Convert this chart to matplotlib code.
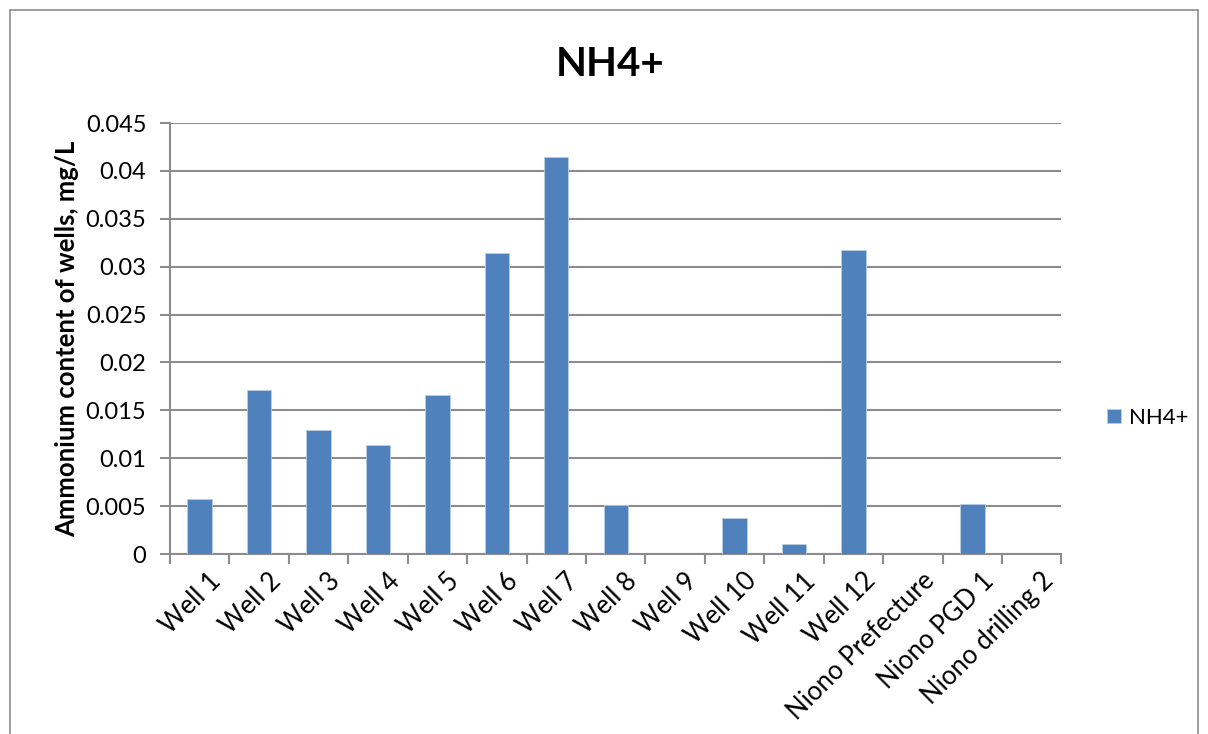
import matplotlib.pyplot as plt
from matplotlib.patches import Rectangle

plt.rcParams['font.family'] = ['Lato', 'DejaVu Sans']

categories = ['Well 1', 'Well 2', 'Well 3', 'Well 4', 'Well 5', 'Well 6',
              'Well 7', 'Well 8', 'Well 9', 'Well 10', 'Well 11', 'Well 12',
              'Niono Prefecture', 'Niono PGD 1', 'Niono drilling 2']
nh4 = [0.0057, 0.0171, 0.0130, 0.0114, 0.0166, 0.0314, 0.0414, 0.0051,
       0.0, 0.0038, 0.0010, 0.0317, 0.0, 0.0052, 0.0]
yticks = [0, 0.005, 0.01, 0.015, 0.02, 0.025, 0.03, 0.035, 0.04, 0.045]
ytick_labels = ['0', '0.005', '0.01', '0.015', '0.02', '0.025', '0.03',
                '0.035', '0.04', '0.045']

bar_color = '#4f81bd'
grid_color = '#8c8c8c'

fig = plt.figure(figsize=(12.08, 7.34), dpi=100)
ax = fig.add_axes([0.1407, 0.2452, 0.738, 0.5872])

x = range(len(categories))
ax.bar(x, nh4, width=0.41, color=bar_color, edgecolor='#b9cde5',
       linewidth=0.6, label='NH4+', zorder=3)

ax.set_xlim(-0.5, len(categories) - 0.5)
ax.set_ylim(0, 0.045)
ax.set_yticks(yticks)
ax.set_yticklabels(ytick_labels, fontsize=17)
ax.yaxis.grid(True, color=grid_color, linewidth=1.5, zorder=0)

ax.set_xticks([i - 0.5 for i in range(len(categories) + 1)])
ax.set_xticklabels([])
ax.tick_params(axis='x', length=7, width=1.5, color=grid_color)
ax.tick_params(axis='y', length=7, width=1.5, color=grid_color, pad=10)
for i, lab in enumerate(categories):
    ax.text(i + 0.15, -0.0015, lab, rotation=45, ha='right', va='top',
            rotation_mode='anchor', fontsize=18.5,
            transform=ax.transData)

for side in ['top', 'right']:
    ax.spines[side].set_visible(False)
for side in ['left', 'bottom']:
    ax.spines[side].set_color(grid_color)
    ax.spines[side].set_linewidth(1.5)

ax.set_ylabel('Ammonium content of wells, mg/L', fontsize=18.5,
              fontweight='bold', labelpad=5)
fig.text(0.505, 0.912, 'NH4+', ha='center', va='center', fontsize=29,
         fontweight='bold')

fig.legend(loc='center left', bbox_to_anchor=(0.9, 0.431), frameon=False,
           fontsize=16, handlelength=0.6, handleheight=0.6, handletextpad=0.4)

fig.patches.append(Rectangle((0.008, -0.01), 0.984, 0.997, fill=False,
                             edgecolor='#8c8c8c', linewidth=1.2,
                             transform=fig.transFigure))

fig.savefig('out.png', dpi=100)
